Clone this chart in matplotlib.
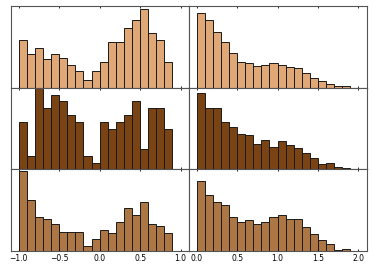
import numpy as np
import matplotlib
matplotlib.use("Agg")
from matplotlib import pyplot as plt

# bar heights (arbitrary units)
left_edges = np.linspace(-1.0, 0.9, 20)
right_edges = np.linspace(0.0, 1.9, 20)

top_left = [14.3, 10.2, 11.9, 8.7, 10.2, 9.0, 6.8, 5.0, 2.4, 5.0, 7.8, 13.8, 13.8, 17.9, 20.4, 23.7, 16.4, 14.3, 7.8]
top_right = [22.5, 20.3, 16.8, 13.7, 10.5, 7.8, 7.5, 6.4, 6.8, 7.5, 6.9, 6.3, 5.8, 4.3, 2.9, 2.1, 1.1, 0.6, 0.4]
mid_left = [14.1, 4.0, 24.3, 18.3, 22.2, 20.3, 16.2, 14.1, 4.0, 1.8, 14.1, 12.1, 14.1, 16.2, 20.3, 6.0, 18.2, 18.2, 12.1]
mid_right = [22.8, 18.3, 18.3, 14.1, 12.6, 10.5, 10.3, 7.6, 8.6, 6.5, 8.5, 7.2, 6.3, 4.8, 3.3, 1.6, 1.8, 0.7, 0.3]
bot_left = [23.8, 15.1, 10.1, 9.7, 8.0, 5.8, 5.8, 5.8, 1.5, 3.7, 6.3, 5.3, 8.6, 12.9, 10.8, 14.5, 8.0, 7.4, 5.3]
bot_right = [20.8, 16.8, 14.5, 13.7, 10.2, 8.6, 9.2, 8.1, 8.6, 10.2, 10.7, 9.6, 9.6, 7.2, 5.2, 3.3, 2.0, 0.4, 0.5]

row_colors = ['#E0A876', '#7A4313', '#AC7745']
row_tops = [24.7, 24.3, 24.4]

fig, axes = plt.subplots(3, 2, figsize=(3.74, 2.69), dpi=100, sharex='col')
fig.subplots_adjust(left=0.0286, right=0.980, top=0.978, bottom=0.067, wspace=0, hspace=0)

data = [(top_left, top_right), (mid_left, mid_right), (bot_left, bot_right)]
for r, (lvals, rvals) in enumerate(data):
    for c, (vals, edges) in enumerate([(lvals, left_edges), (rvals, right_edges)]):
        ax = axes[r, c]
        ax.hist(edges[:-1], bins=edges, weights=vals, color=row_colors[r],
                edgecolor='#1a1a1a', linewidth=0.7)
        ax.set_ylim(0, row_tops[r])
        ax.set_yticks([])
        ax.tick_params(axis='x', direction='in', top=True, length=1.6, width=0.6,
                       labelsize=5.5, pad=2.5)
        for sp in ax.spines.values():
            sp.set_color('#555555')
            sp.set_linewidth(0.8)

axes[0, 0].set_xlim(-1.1, 1.1)
axes[0, 1].set_xlim(-0.1, 2.1)
axes[2, 0].set_xticks([-1.0, -0.5, 0.0, 0.5, 1.0])
axes[2, 1].set_xticks([0.0, 0.5, 1.0, 1.5, 2.0])

fig.savefig('out.png', dpi=100)
